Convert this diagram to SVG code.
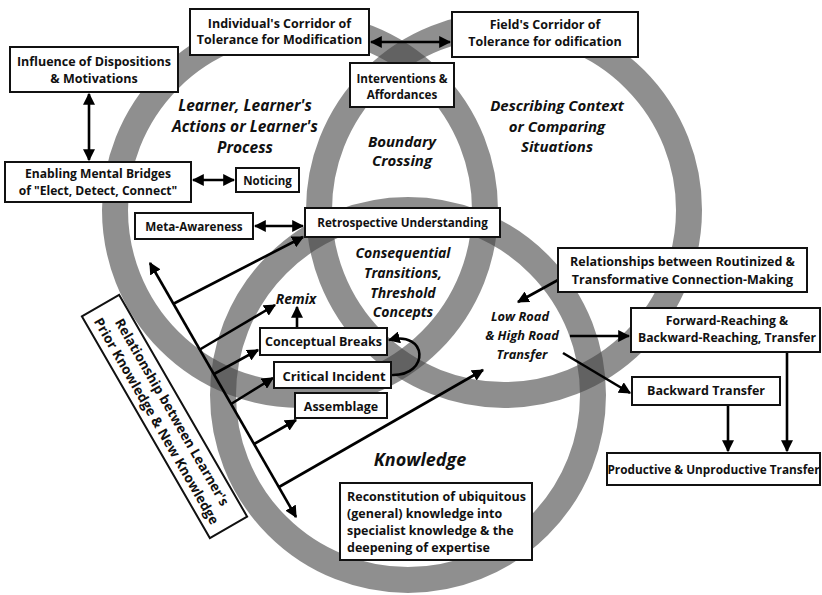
<svg xmlns="http://www.w3.org/2000/svg" width="822" height="595" viewBox="0 0 822 595">
<defs>
<marker id="ah" viewBox="0 0 10 10" refX="9" refY="5" markerWidth="12" markerHeight="12" markerUnits="userSpaceOnUse" orient="auto-start-reverse">
<path d="M0,0 L10,5 L0,10 z" fill="#000"/>
</marker>
<style>
.ring{fill:none;stroke:#444;stroke-opacity:0.6;stroke-width:26}
.box{fill:#fff;stroke:#111;stroke-width:2}
.t{font-family:"Open Sans","DejaVu Sans",sans-serif;font-weight:bold;font-size:12.5px;fill:#111;text-anchor:middle}
.tl{text-anchor:start}
.it{font-family:"Open Sans","DejaVu Sans",sans-serif;font-weight:bold;font-style:italic;font-size:14px;fill:#111;text-anchor:middle}
.c{fill:none;stroke:#000;stroke-width:2.6}
.one{marker-end:url(#ah)}
.two{marker-start:url(#ah);marker-end:url(#ah)}
</style>
</defs>
<rect width="822" height="595" fill="#fff"/>
<g id="rings">
<circle class="ring" cx="300" cy="210" r="185"/>
<circle class="ring" cx="504" cy="210" r="185"/>
<circle class="ring" cx="408" cy="395" r="185"/>
</g>
<g id="connectors">
<path class="c two" d="M371 42 L450 42"/>
<path class="c two" d="M89 94 L89 160"/>
<path class="c two" d="M193 180 L234 180"/>
<path class="c two" d="M255 226 L303 226"/>
<path class="c two" d="M150 263 L296 517"/>
<path class="c one" d="M173 304 L303 237"/>
<path class="c one" d="M199 350 L275 305"/>
<path class="c one" d="M214 374 L258 350"/>
<path class="c one" d="M231 404 L273 378"/>
<path class="c one" d="M254 444 L296 420"/>
<path class="c one" d="M279 487 L483 370"/>
<path class="c one" d="M297 328 L297 307"/>
<path class="c one" d="M392 375 C430 376, 428 330, 389 340"/>
<path class="c one" d="M558 280 L518 302"/>
<path class="c one" d="M570 336 L629 336"/>
<path class="c one" d="M563 353 L630 393"/>
<path class="c one" d="M728 405 L728 451"/>
<path class="c one" d="M787 352 L787 451"/>
</g>
<g id="individual">
<rect class="box" x="190" y="9" width="179" height="46"/>
<text class="t" x="279.5" y="28">Individual's Corridor of</text>
<text class="t" x="279.5" y="44">Tolerance for Modification</text>
</g>
<g id="field">
<rect class="box" x="452" y="12" width="186" height="45"/>
<text class="t" x="545" y="29">Field's Corridor of</text>
<text class="t" x="545" y="46">Tolerance for odification</text>
</g>
<g id="influence">
<rect class="box" x="10" y="47" width="168" height="45"/>
<text class="t" x="94" y="66">Influence of Dispositions</text>
<text class="t" x="94" y="83">&amp; Motivations</text>
</g>
<g id="enabling">
<rect class="box" x="5" y="162" width="186" height="40"/>
<text class="t" x="98" y="178" style="font-size:12.1px">Enabling Mental Bridges</text>
<text class="t" x="98" y="195" style="font-size:12.1px">of "Elect, Detect, Connect"</text>
</g>
<g id="noticing">
<rect class="box" x="236" y="168" width="63" height="24"/>
<text class="t" x="267.5" y="184.5" style="font-size:11.5px">Noticing</text>
</g>
<g id="interventions">
<rect class="box" x="350" y="63" width="104" height="44"/>
<text class="t" x="402" y="83" style="font-size:11.7px">Interventions &amp;</text>
<text class="t" x="402" y="99" style="font-size:11.7px">Affordances</text>
</g>
<g id="meta">
<rect class="box" x="135" y="213" width="118" height="26"/>
<text class="t" x="194" y="230.5" style="font-size:11.7px">Meta-Awareness</text>
</g>
<g id="retro">
<rect class="box" x="305" y="208" width="195" height="29"/>
<text class="t" x="402.5" y="227" style="font-size:11.7px">Retrospective Understanding</text>
</g>
<g id="learner-label">
<text class="it" x="245" y="111" style="font-size:15.5px">Learner, Learner's</text>
<text class="it" x="245" y="132" style="font-size:15.5px">Actions or Learner's</text>
<text class="it" x="245" y="153" style="font-size:15.5px">Process</text>
</g>
<g id="boundary-label">
<text class="it" x="402" y="147" style="font-size:15px">Boundary</text>
<text class="it" x="402" y="166" style="font-size:15px">Crossing</text>
</g>
<g id="context-label">
<text class="it" x="557" y="111" style="font-size:15px">Describing Context</text>
<text class="it" x="557" y="132" style="font-size:15px">or Comparing</text>
<text class="it" x="557" y="152" style="font-size:15px">Situations</text>
</g>
<g id="consequential-label">
<text class="it" x="403" y="258">Consequential</text>
<text class="it" x="403" y="278">Transitions,</text>
<text class="it" x="403" y="298">Threshold</text>
<text class="it" x="403" y="317">Concepts</text>
</g>
<g id="remix">
<text class="it" x="296" y="304">Remix</text>
</g>
<g id="conceptual">
<rect class="box" x="260" y="328" width="127" height="27"/>
<text class="t" x="323.5" y="346">Conceptual Breaks</text>
</g>
<g id="critical">
<rect class="box" x="274" y="362" width="117" height="26"/>
<text class="t" x="334" y="380.5" style="font-size:13px">Critical Incident</text>
</g>
<g id="assemblage">
<rect class="box" x="295" y="393" width="92" height="25"/>
<text class="t" x="341" y="410.5">Assemblage</text>
</g>
<g id="relationship-prior" transform="translate(164.5 416.5) rotate(60)">
<rect class="box" x="-128" y="-21.5" width="256" height="43"/>
<text class="t" x="0" y="-4" style="font-size:13.5px">Relationship between Learner's</text>
<text class="t" x="0" y="14" style="font-size:13.5px">Prior Knowledge &amp; New Knowledge</text>
</g>
<g id="lowroad-label">
<text class="it" x="520" y="321" style="font-size:12.8px">Low Road</text>
<text class="it" x="522" y="340" style="font-size:12.8px">&amp; High Road</text>
<text class="it" x="522" y="359" style="font-size:12.8px">Transfer</text>
</g>
<g id="knowledge-label">
<text class="it" x="420" y="466" style="font-size:18px">Knowledge</text>
</g>
<g id="relationships-routinized">
<rect class="box" x="558" y="248" width="249" height="44"/>
<text class="t" x="682.5" y="266">Relationships between Routinized &amp;</text>
<text class="t" x="682.5" y="284">Transformative Connection-Making</text>
</g>
<g id="forward">
<rect class="box" x="631" y="308" width="189" height="44"/>
<text class="t" x="727" y="325" style="font-size:12.2px">Forward-Reaching &amp;</text>
<text class="t" x="727" y="342" style="font-size:12.2px">Backward-Reaching, Transfer</text>
</g>
<g id="backward">
<rect class="box" x="632" y="377" width="148" height="28"/>
<text class="t" x="706" y="395">Backward Transfer</text>
</g>
<g id="productive">
<rect class="box" x="607" y="453" width="213" height="32"/>
<text class="t" x="713.5" y="473.5" style="font-size:11.8px">Productive &amp; Unproductive Transfer</text>
</g>
<g id="reconstitution">
<rect class="box" x="340" y="483" width="192" height="77"/>
<text class="t tl" x="347" y="501">Reconstitution of ubiquitous</text>
<text class="t tl" x="347" y="518">(general) knowledge into</text>
<text class="t tl" x="347" y="535">specialist knowledge &amp; the</text>
<text class="t tl" x="347" y="552">deepening of expertise</text>
</g>
</svg>
